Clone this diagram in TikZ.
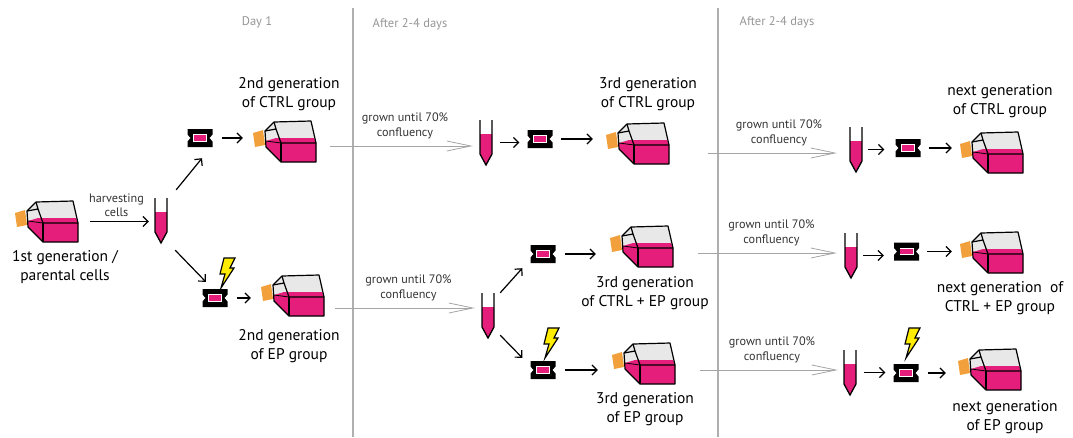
\documentclass[tikz,border=0pt]{standalone}
\usepackage{fontspec}
\setmainfont{PT Sans}
\usetikzlibrary{arrows.meta,calc}
\definecolor{cellpink}{RGB}{228,30,122}
\definecolor{capor}{RGB}{242,160,60}
\definecolor{flaskgray}{RGB}{232,232,232}
\definecolor{boltyel}{RGB}{255,236,0}
\definecolor{daygray}{RGB}{150,150,150}
\definecolor{divgray}{RGB}{175,175,175}
\definecolor{growgray}{RGB}{165,165,165}
\tikzset{
  iconline/.style={line width=1.2pt,line join=round},
  flask/.pic={
    \begin{scope}[shift={(-36.5,-31.5)}]
      \fill[capor] (5,23) -- (15,20) -- (17,35) -- (7,37) -- cycle;
      \fill[flaskgray] (17,21) -- (26,12) -- (63,11) -- (68,33) -- (68,52) -- (33,52) -- (18,37) -- cycle;
      \fill[cellpink] (18,31) -- (28,28) -- (66,28) -- (68,33) -- (68,52) -- (33,52) -- (18,37) -- cycle;
      \draw[iconline] (17,21) -- (26,12) -- (63,11) -- (68,33) -- (68,52) -- (33,52) -- (18,37) -- cycle;
      \draw[iconline] (26,12) -- (28,19) -- (17,21);
      \draw[iconline] (28,19) -- (33,33) -- (68,33);
      \draw[iconline] (33,33) -- (33,52);
      \draw[line width=0.8pt] (18,31) -- (33,33);
    \end{scope}
  },
  tube/.pic={
    \fill[cellpink] (-6,-8.5) -- (6,-8.5) -- (6,11.5) -- (0,22.5) -- (-6,11.5) -- cycle;
    \draw[line width=1.3pt,line join=miter] (-6,-22.5) -- (-6,11.5) -- (0,22.5) -- (6,11.5) -- (6,-22.5);
  },
  cuvette/.pic={
    \fill[black] (-12.5,-9) -- (12.5,-9) -- (12.5,-3.5) -- (9.5,0) -- (12.5,3.5) -- (12.5,9)
      -- (-12.5,9) -- (-12.5,3.5) -- (-9.5,0) -- (-12.5,-3.5) -- cycle;
    \fill[white] (-7,-3.6) rectangle (7,3.6);
    \fill[cellpink] (-6.3,-2.9) rectangle (6.3,2.9);
  },
  bolt/.pic={
    \begin{scope}[shift={(-9,-15)}]
      \draw[fill=boltyel,line width=1.2pt,line join=miter]
        (7,0) -- (18,0) -- (13,10) -- (17,10) -- (4,30) -- (8,16) -- (3,16) -- cycle;
    \end{scope}
  },
  flaskbox/.style={inner sep=0pt,minimum width=63pt,minimum height=41pt},
  tubebox/.style={inner sep=0pt,minimum width=12pt,minimum height=45pt},
  cuvbox/.style={inner sep=0pt,minimum width=25pt,minimum height=18pt},
  boltbox/.style={inner sep=0pt,minimum width=18pt,minimum height=30pt},
  arr/.style={line width=1.2pt,-{Straight Barb[length=5pt,width=10pt,line width=1.2pt]}},
  growarrow/.style={growgray,line width=0.8pt,-{Straight Barb[length=24pt,width=10pt,line width=0.8pt]}},
  biglabel/.style={align=center,font=\fontsize{15.5}{19}\selectfont,inner sep=0pt},
  smalllabel/.style={align=center,font=\fontsize{12.2}{14.5}\selectfont,text=black!80,inner sep=0pt},
  daylabel/.style={font=\fontsize{12.5}{15}\selectfont,text=daygray,inner sep=0pt},
  divider/.style={divgray,line width=1.5pt}
}
\begin{document}
\begin{tikzpicture}[x=1pt,y=-1pt]
\useasboundingbox (0,0) rectangle (1073,437);

% time dividers and headings
\draw[divider] (353,8) -- (353,437);
\draw[divider] (718,8) -- (718,437);
\node[daylabel] (day1) at (257,22) {Day 1};
\node[daylabel] (day2) at (410,24) {After 2-4 days};
\node[daylabel] (day3) at (777,22) {After 2-4 days};

% flasks
\node[flaskbox] (f1) at (46.5,221.5) {};
\node[flaskbox] (f2c) at (284.5,141.5) {};
\node[flaskbox] (f2e) at (292.5,295.5) {};
\node[flaskbox] (f3c) at (637.5,143.5) {};
\node[flaskbox] (f3ce) at (641.5,246.5) {};
\node[flaskbox] (f3e) at (643.5,363.5) {};
\node[flaskbox] (fnc) at (991.5,152.5) {};
\node[flaskbox] (fnce) at (991.5,252.5) {};
\node[flaskbox] (fne) at (989.5,369.5) {};
\foreach \f in {f1,f2c,f2e,f3c,f3ce,f3e,fnc,fnce,fne}
  \pic at (\f.center) {flask};

% tubes
\node[tubebox] (t1) at (161,220.5) {};
\node[tubebox] (t2) at (486,142.5) {};
\node[tubebox] (t3) at (488,315.5) {};
\node[tubebox] (t4) at (856,149.5) {};
\node[tubebox] (t5) at (851,255.5) {};
\node[tubebox] (t6) at (850,372.5) {};
\foreach \t in {t1,t2,t3,t4,t5,t6}
  \pic at (\t.center) {tube};

% electroporation cuvettes
\node[cuvbox] (c1) at (200,138) {};
\node[cuvbox] (c2) at (215,298) {};
\node[cuvbox] (c3) at (540,139) {};
\node[cuvbox] (c4) at (543,254) {};
\node[cuvbox] (c5) at (543,370) {};
\node[cuvbox] (c6) at (908,148) {};
\node[cuvbox] (c7) at (906.5,251.5) {};
\node[cuvbox] (c8) at (906,373) {};
\foreach \c in {c1,c2,c3,c4,c5,c6,c7,c8}
  \pic at (\c.center) {cuvette};

% pulses
\node[boltbox] (b1) at (226,273) {};
\node[boltbox] (b2) at (550,343) {};
\node[boltbox] (b3) at (911,343) {};
\foreach \b in {b1,b2,b3}
  \pic at (\b.center) {bolt};

% labels
\node[biglabel] (l1) at (65,267.5) {1st generation /\\parental cells};
\node[biglabel] (l2c) at (289,94) {2nd generation\\of CTRL group};
\node[biglabel] (l2e) at (289,346) {2nd generation\\of EP group};
\node[biglabel] (l3c) at (648,94) {3rd generation\\of CTRL group};
\node[biglabel] (l3ce) at (645,293) {3rd generation\\of CTRL + EP group};
\node[biglabel] (l3e) at (645,409) {3rd generation\\of EP group};
\node[biglabel] (lnc) at (1000,101) {next generation\\of CTRL group};
\node[biglabel] (lnce) at (1000,298) {next generation~~of\\CTRL + EP group};
\node[biglabel] (lne) at (1005,417) {next generation\\of EP group};

% harvesting
\draw[arr,shorten <=12pt,shorten >=6pt] (f1.east) -- (f1.east -| t1.west)
  node[midway,above=4pt,smalllabel] {harvesting\\cells};

% splitting into groups
\draw[arr] ($(t1.north east)+(9,-8)$) -- ($(c1.south)+(2,11)$);
\draw[arr] ($(t1.south east)+(8,7)$) -- ($(c2.north west)+(3.5,-7)$);
\draw[arr] ($(t3.north east)+(6,0)$) -- ($(c4.south west)+(-8,5)$);
\draw[arr] ($(t3.south east)+(6,-3)$) -- ($(c5.north west)+(-8,-3)$);

% cuvette to flask, tube to cuvette
\draw[arr,shorten <=9pt,shorten >=10pt] (c1.east) -- (c1.east -| f2c.west);
\draw[arr,shorten <=9pt,shorten >=10pt] (c2.east) -- (c2.east -| f2e.west);
\draw[arr,shorten <=8pt,shorten >=8pt] (t2.east) -- (t2.east -| c3.west);
\draw[arr,shorten <=8pt,shorten >=13pt] (c3.east) -- (c3.east -| f3c.west);
\draw[arr,shorten <=9pt,shorten >=14pt] (c4.east) -- (c4.east -| f3ce.west);
\draw[arr,shorten <=9pt,shorten >=14pt] (c5.east) -- (c5.east -| f3e.west);
\draw[arr,shorten <=6pt,shorten >=11pt] (t4.east) -- (t4.east -| c6.west);
\draw[arr,shorten <=8pt,shorten >=8pt] (c6.east) -- (c6.east -| fnc.west);
\draw[arr,shorten <=6pt,shorten >=10pt] (t5.east) -- (t5.east -| c7.west);
\draw[arr,shorten <=8pt,shorten >=8pt] (c7.east) -- (c7.east -| fnce.west);
\draw[arr,shorten <=8pt,shorten >=8pt] (t6.east) -- (t6.east -| c8.west);
\draw[arr,shorten <=9pt,shorten >=12pt] (c8.east) -- (c8.east -| fne.west);

% growth periods
\coordinate (g1) at ($(f2c.east)+(14,4.5)$);
\draw[growarrow,shorten >=7pt] (g1) -- (g1 -| t2.west)
  node[midway,above=7pt,smalllabel] {grown until 70\%\\confluency};
\coordinate (g2) at ($(f2e.east)+(11,12.5)$);
\draw[growarrow,shorten >=7pt] (g2) -- (g2 -| t3.west)
  node[midway,above=7pt,smalllabel] {grown until 70\%\\confluency};
\coordinate (g3) at ($(f3c.east)+(39,9.5)$);
\draw[growarrow,shorten >=13pt] (g3) -- (g3 -| t4.west)
  node[midway,above=7pt,smalllabel] {grown until 70\%\\confluency};
\coordinate (g4) at ($(f3ce.east)+(25,6.5)$);
\draw[growarrow,shorten >=8pt] (g4) -- (g4 -| t5.west)
  node[midway,above=7pt,smalllabel] {grown until 70\%\\confluency};
\coordinate (g5) at ($(f3e.east)+(25,6.5)$);
\draw[growarrow,shorten >=6pt] (g5) -- (g5 -| t6.west)
  node[midway,above=7pt,smalllabel] {grown until 70\%\\confluency};
\end{tikzpicture}
\end{document}
